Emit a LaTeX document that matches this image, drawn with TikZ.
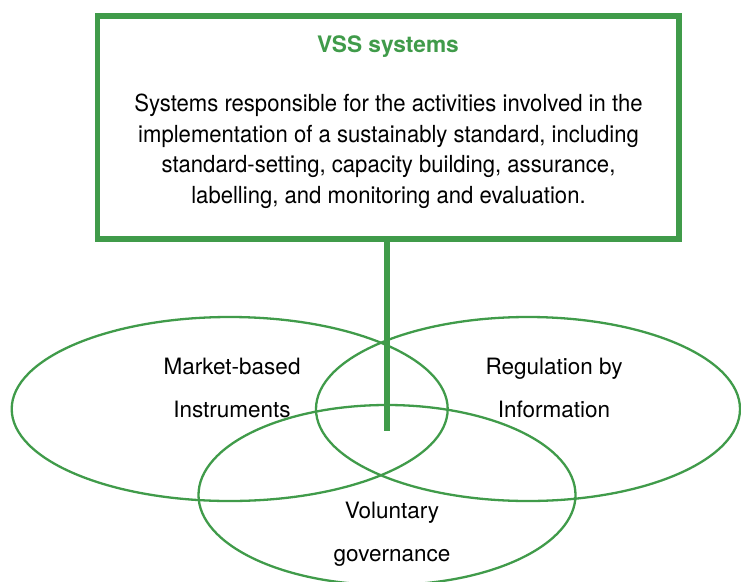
\documentclass[tikz,border=0pt]{standalone}
\usepackage{fontspec}
\setmainfont{TeX Gyre Heros}
\newfontfamily\bodyfont{TeX Gyre Heros}[FakeStretch=0.94]
\definecolor{vssgreen}{RGB}{64,155,74}
\begin{document}
\begin{tikzpicture}[x=1pt,y=-1pt,
  frame/.style={draw=vssgreen,line width=5.5pt,rectangle,inner sep=0pt,minimum width=581.5pt,minimum height=223pt},
  circ/.style={draw=vssgreen,line width=2.3pt},
  stem/.style={draw=vssgreen,line width=6pt},
  titletxt/.style={font=\fontsize{22.7}{26}\selectfont\bfseries,text=vssgreen,inner sep=0pt,anchor=base},
  bodytxt/.style={font=\bodyfont\fontsize{23.5}{30.5}\selectfont,align=center,inner sep=0pt,anchor=base},
  labeltxt/.style={font=\fontsize{22.5}{43}\selectfont,align=center,inner sep=0pt,anchor=base}]
\useasboundingbox (0,0) rectangle (741,581);
\node[frame] (box) at (388.25,127.5) {};
\coordinate (stemend) at (387,431);
\draw[stem] (box.south -| stemend) -- (stemend);
\draw[circ] (229.7,409) ellipse [x radius=218, y radius=92];
\draw[circ] (528,409) ellipse [x radius=212, y radius=92];
\draw[circ] (387,495) ellipse [x radius=188.5, y radius=90];
\node[titletxt] (title) at (388,52) {VSS systems};
\node[bodytxt] (body) at (388.5,203.2) {Systems responsible for the activities involved in the\\implementation of a sustainably standard, including\\standard-setting, capacity building, assurance,\\labelling, and monitoring and evaluation.};
\node[labeltxt] (mbi) at (232,417.5) {Market-based\\Instruments};
\node[labeltxt] (rbi) at (554,417.5) {Regulation by\\Information};
\node[labeltxt] (vg) at (392,561) {Voluntary\\governance};
\end{tikzpicture}
\end{document}
